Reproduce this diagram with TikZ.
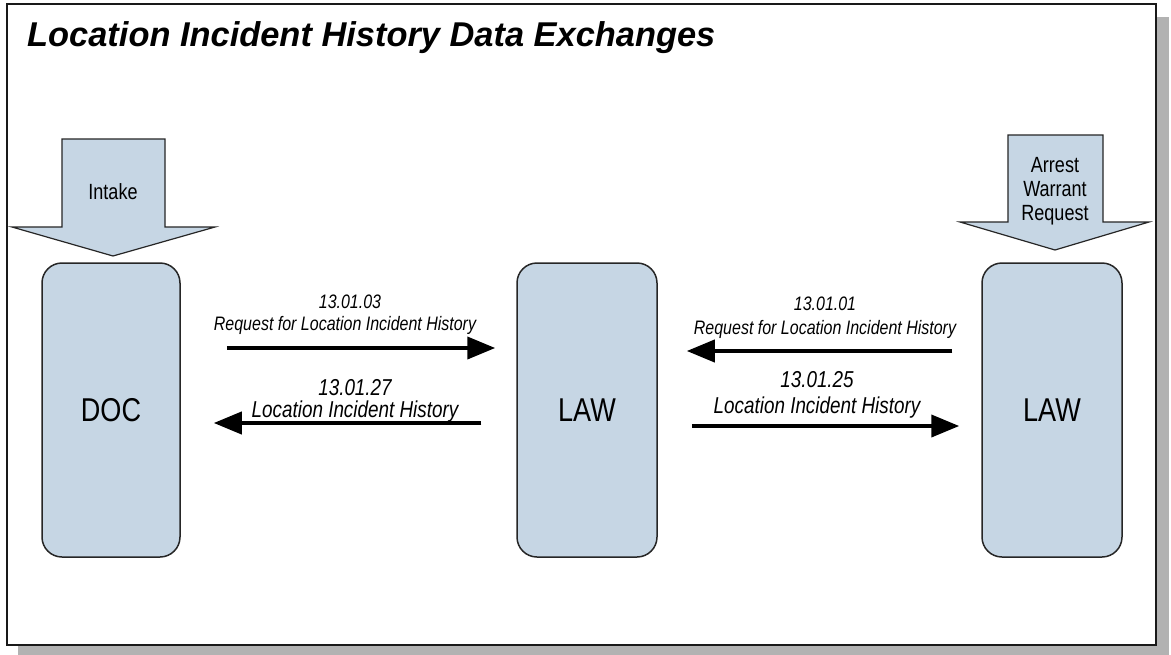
\documentclass[tikz,border=0pt]{standalone}
\usepackage{fontspec}
\setmainfont{Liberation Sans}
\newfontfamily\narrowfont[FakeStretch=0.82]{Liberation Sans}
\usetikzlibrary{arrows.meta}
\definecolor{boxfill}{RGB}{198,214,228}
\definecolor{shadowgray}{RGB}{178,178,178}
\tikzset{
  agency/.style={draw=black!85, line width=1.5pt, fill=boxfill, rounded corners=20pt,
    minimum width=138pt, minimum height=294pt, inner sep=0pt,
    font=\narrowfont\fontsize{33}{36}\selectfont},
  blockarrow/.style={draw=black!85, line width=1.2pt, fill=boxfill, line join=miter},
  trigger/.style={font=\narrowfont\fontsize{22}{24}\selectfont, anchor=base, inner sep=0pt},
  flow/.style={line width=4pt, -{Triangle[length=28pt,width=22pt]}},
  idsmall/.style={font=\narrowfont\itshape\fontsize{19.5}{22}\selectfont, anchor=base, inner sep=0pt},
  idlarge/.style={font=\narrowfont\itshape\fontsize{23}{26}\selectfont, anchor=base, inner sep=0pt},
}
\begin{document}
\begin{tikzpicture}[x=1pt, y=-1pt]
\useasboundingbox (0,0) rectangle (1171,654);
% page frame with drop shadow
\fill[shadowgray] (18,17) rectangle (1169,655);
\draw[fill=white, line width=1.5pt, draw=black!90] (7,4) rectangle (1156,645);
% title
\node[anchor=base west, inner sep=0pt, font=\bfseries\itshape\fontsize{34.4}{40}\selectfont]
  (title) at (27,46) {Location Incident History Data Exchanges};

% participants
\node[agency] (doc)  at (111,410) {DOC};
\node[agency, minimum width=140pt] (law)  at (587,410) {LAW};
\node[agency, minimum width=140pt] (rlaw) at (1052,410) {LAW};

% triggering events
\draw[blockarrow] (62,139) -- (165,139) -- (165,227) -- (215,227) -- (113,256)
  -- (12,227) -- (62,227) -- cycle;
\node[trigger] (intake) at (113,199) {Intake};
\draw[blockarrow] (1008,135) -- (1103,135) -- (1103,222) -- (1149,222) -- (1055,250)
  -- (960,222) -- (1008,222) -- cycle;
\node[trigger] (arrest)  at (1055,172) {Arrest};
\node[trigger] (warrant) at (1055,196) {Warrant};
\node[trigger] (request) at (1055,220) {Request};

% exchanges between DOC and LAW
\draw[flow] ([xshift=46pt,yshift=62pt]doc.east) -- ([xshift=-21pt,yshift=62pt]law.west);
\node[idsmall] (m1a) at (350,308) {13.01.03};
\node[idsmall] (m1b) at (345,330) {Request for Location Incident History};
\draw[flow] ([xshift=-35pt,yshift=-13pt]law.west) -- ([xshift=33pt,yshift=-13pt]doc.east);
\node[idlarge] (m2a) at (355,395) {13.01.27};
\node[idlarge] (m2b) at (355,417) {Location Incident History};

% exchanges between the two LAW agencies
\draw[flow] ([xshift=-29pt,yshift=59pt]rlaw.west) -- ([xshift=29pt,yshift=59pt]law.east);
\node[idsmall] (m3a) at (825,310) {13.01.01};
\node[idsmall] (m3b) at (825,334) {Request for Location Incident History};
\draw[flow] ([xshift=34pt,yshift=-16pt]law.east) -- ([xshift=-22pt,yshift=-16pt]rlaw.west);
\node[idlarge] (m4a) at (817,387) {13.01.25};
\node[idlarge] (m4b) at (817,413) {Location Incident History};
\end{tikzpicture}
\end{document}
